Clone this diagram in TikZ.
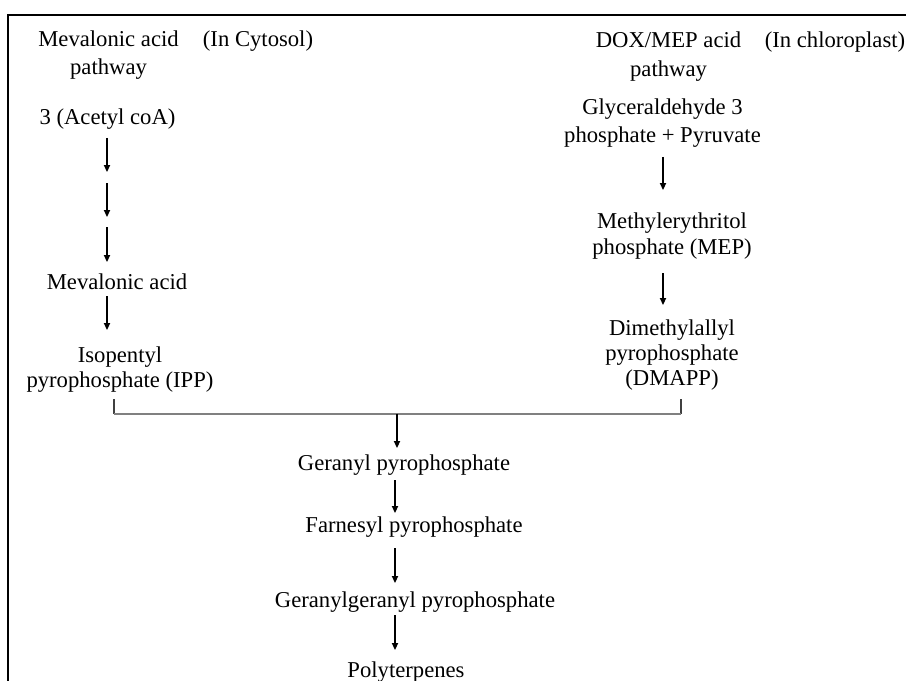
\documentclass[tikz,border=0pt]{standalone}
\usepackage{fontspec}
\setmainfont{Liberation Serif}
\usetikzlibrary{arrows.meta}
\newcommand{\mlines}[2]{\fontsize{17}{#1}\selectfont\begin{tabular}[t]{@{}c@{}}#2\end{tabular}}
\definecolor{bargray}{RGB}{128,128,128}
\begin{document}
\begin{tikzpicture}[x=0.75pt,y=-0.75pt,
  lbl/.style={anchor=base,inner sep=0pt,font=\fontsize{17}{20}\selectfont},
  arr/.style={line width=1pt,-{Triangle[length=5.2pt,width=4.6pt]}},
  brk/.style={line width=0.9pt,draw=black!75},
  bar/.style={line width=1.5pt,draw=bargray},
  frameline/.style={line width=1.5pt}]
\useasboundingbox (0,0) rectangle (906,681);
% frame
\coordinate (fa) at (8,682);
\coordinate (fb) at (8,15);
\coordinate (fc) at (907,15);
\draw[frameline] (fa) -- (fb) -- (fc);

% left column
\node[lbl] (mevtitle) at (108.5,47) {\mlines{21}{Mevalonic acid\\pathway}};
\node[lbl] (cyto) at (258,47) {(In Cytosol)};
\node[lbl] (acetyl) at (107.5,125) {3 (Acetyl coA)};
\node[lbl] (mev) at (117,289) {Mevalonic acid};
\node[lbl] (ipp) at (120,362) {\mlines{18.75}{Isopentyl\\pyrophosphate (IPP)}};

% right column
\node[lbl] (doxtitle) at (668.5,48) {\mlines{21.75}{DOX/MEP acid\\pathway}};
\node[lbl] (chloro) at (835,48) {(In chloroplast)};
\node[lbl] (glyc) at (662.5,115) {\mlines{21}{Glyceraldehyde 3\\phosphate + Pyruvate}};
\node[lbl] (mep) at (672,228) {\mlines{20.25}{Methylerythritol\\phosphate (MEP)}};
\node[lbl] (dmapp) at (672,335) {\mlines{18.75}{Dimethylallyl\\pyrophosphate\\(DMAPP)}};

% lower chain
\node[lbl] (ger) at (404,470) {Geranyl pyrophosphate};
\node[lbl] (farn) at (414,532) {Farnesyl pyrophosphate};
\node[lbl] (gg) at (415,607) {Geranylgeranyl pyrophosphate};
\node[lbl] (poly) at (406,677) {Polyterpenes};

% arrow end points
\coordinate (l1s) at (107,138); \coordinate (l1e) at (107,172);
\coordinate (l2s) at (107,183); \coordinate (l2e) at (107,217);
\coordinate (l3s) at (107,227); \coordinate (l3e) at (107,262);
\coordinate (l4s) at (107,296); \coordinate (l4e) at (107,330);
\coordinate (r1s) at (663,157); \coordinate (r1e) at (663,190);
\coordinate (r2s) at (663,273); \coordinate (r2e) at (663,305);
\coordinate (bl) at (114,399); \coordinate (blb) at (114,413.5);
\coordinate (br) at (681,399); \coordinate (brb) at (681,413.5);
\coordinate (bm) at (397,413.5); \coordinate (bme) at (397,448);
\coordinate (c1s) at (395,480); \coordinate (c1e) at (395,513);
\coordinate (c2s) at (395,548); \coordinate (c2e) at (395,583);
\coordinate (c3s) at (395,615); \coordinate (c3e) at (395,650);

\draw[arr] (l1s) -- (l1e);
\draw[arr] (l2s) -- (l2e);
\draw[arr] (l3s) -- (l3e);
\draw[arr] (l4s) -- (l4e);
\draw[arr] (r1s) -- (r1e);
\draw[arr] (r2s) -- (r2e);

% bracket
\draw[brk] (bl) -- (blb);
\draw[brk] (br) -- (brb);
\draw[bar] (blb) -- (brb);
\draw[arr] (bm) -- (bme);

\draw[arr] (c1s) -- (c1e);
\draw[arr] (c2s) -- (c2e);
\draw[arr] (c3s) -- (c3e);
\end{tikzpicture}
\end{document}
